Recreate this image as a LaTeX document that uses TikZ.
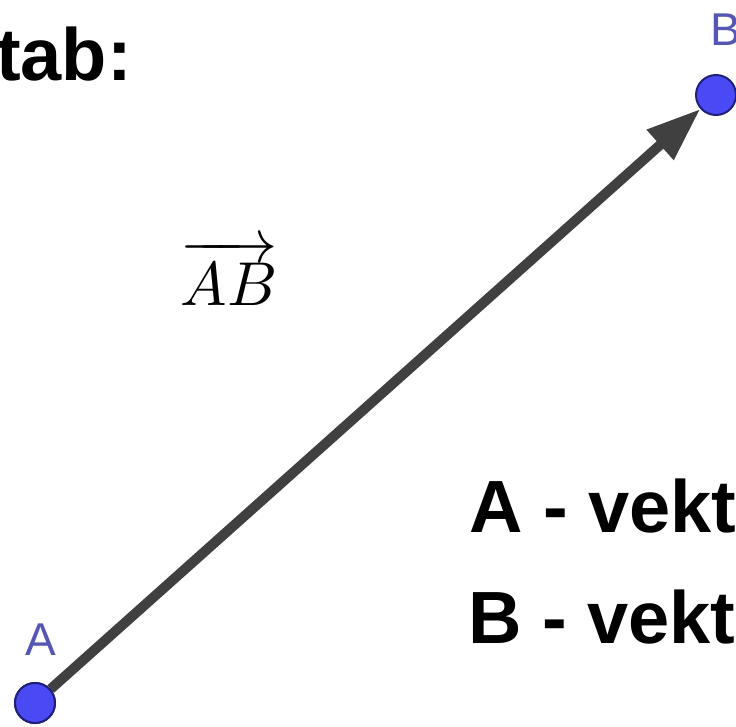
\documentclass[tikz,border=0pt]{standalone}
\usepackage{amsmath,amssymb}
\usepackage{graphicx}
\usepackage{fontspec}
\setmainfont{Liberation Sans}
\usepackage{tikz}
\usetikzlibrary{arrows.meta,positioning,calc}
\definecolor{dotblue}{HTML}{4A4AF5}
\definecolor{dotedge}{HTML}{20207A}
\definecolor{lblblue}{HTML}{5656B4}
\definecolor{shaft}{HTML}{404040}

\begin{document}
\begin{tikzpicture}[
          x=1pt, y=-1pt,
          pointdot/.style={circle, draw=dotedge, fill=dotblue, line width=2pt, minimum size=40pt, inner sep=0pt},
          pointlbl/.style={text=lblblue, font=\fontsize{46}{50}\selectfont, inner sep=0pt, anchor=base west},
          bigtxt/.style={font=\fontsize{74}{80}\selectfont\bfseries, inner sep=0pt, anchor=base west},
          vecline/.style={draw=shaft, line width=10pt, -{Triangle[length=54pt,width=38pt]}}
      ]
        \useasboundingbox (0,0) rectangle (736,726);
        \fill[white] (0,0) rectangle (736,726);
        \clip (0,0) rectangle (736,726);

        \node[bigtxt] (tabtxt) at (-4,80) {tab:};

        \node[pointdot] (A) at (35,703) {};
        \node[pointdot] (B) at (716,95) {};
        \node[pointlbl] (Albl) at (25,655) {A};
        \node[pointlbl] (Blbl) at (710,45) {B};

        \draw[vecline] (A) -- (B);
        \node[pointdot] at (A) {};

        \node[inner sep=0pt, anchor=base] (ABlbl) at (229,305) {\scalebox{6.2}{$\overrightarrow{AB}$}};

        \node[bigtxt] (Atxt) at (469,532) {A - vekt};
        \node[bigtxt] (Btxt) at (468,643) {B - vekt};
      \end{tikzpicture}
\end{document}
